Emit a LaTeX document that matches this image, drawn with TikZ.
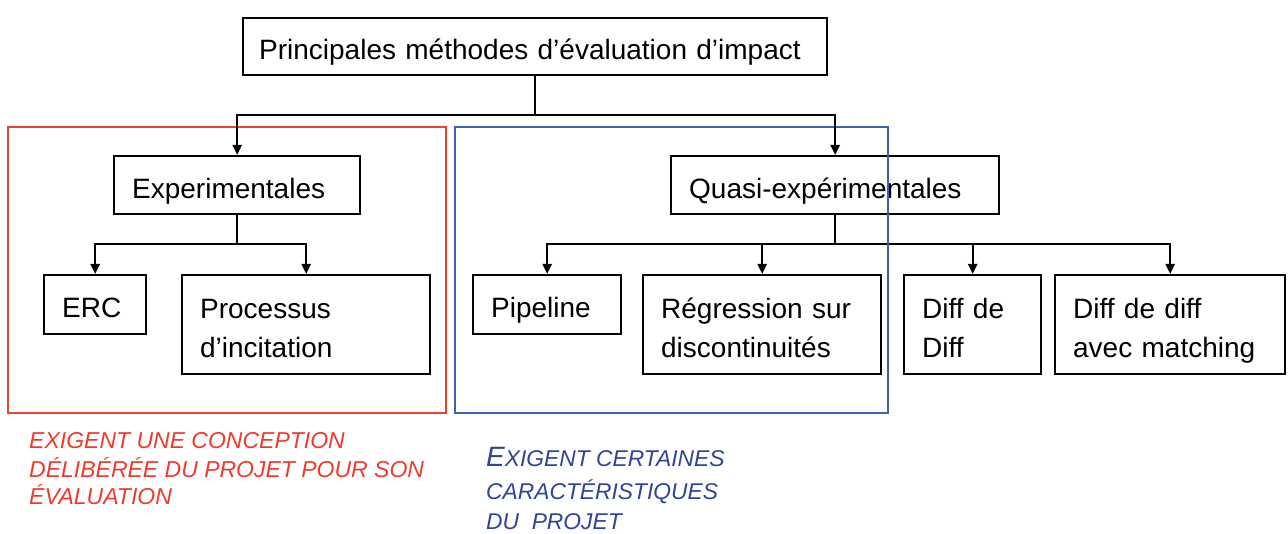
\documentclass[tikz,border=0pt]{standalone}
\usepackage{fontspec}
\setmainfont{Liberation Sans}
\usetikzlibrary{arrows.meta}
\definecolor{frred}{HTML}{EE4130}
\definecolor{frblue}{HTML}{3A62B0}
\definecolor{txred}{HTML}{F03A2C}
\definecolor{txblue}{HTML}{2E4499}
\tikzset{
  box/.style={draw=black, line width=2.3pt, anchor=north west, inner ysep=0pt,
    inner xsep=18pt, align=left, text height=27pt, text depth=1pt,
    font=\fontsize{28}{39}\selectfont},
  box2/.style={box, text depth=40pt},
  conn/.style={draw=black, line width=2.3pt},
  arr/.style={conn, -{Triangle[length=10pt,width=9pt]}},
  frame/.style={line width=2.3pt},
  rednote/.style={anchor=base west, inner sep=0pt, text=txred,
    font=\fontsize{23}{27}\selectfont\itshape},
  bluenote/.style={anchor=base west, inner sep=0pt, text=txblue,
    font=\fontsize{22.8}{33}\selectfont\itshape},
}
\begin{document}
\begin{tikzpicture}[x=1pt, y=-1pt]
\useasboundingbox (0,0) rectangle (1288,534);
% group frames
\draw[frame, frred] (8,127) rectangle (446,413);
\draw[frame, frblue] (455,127) rectangle (888,413);
% boxes
\node[box, inner xsep=16pt, text width=552pt, minimum height=57pt] (top) at (242,17) {Principales méthodes d’évaluation d’impact};
\node[box, text width=210pt, minimum height=58pt] (exp) at (113,155) {Experimentales};
\node[box, text width=292pt, minimum height=58pt] (quasi) at (670,155) {Quasi-expérimentales};
\node[box, text width=66pt, minimum height=59pt] (erc) at (43,274) {ERC};
\node[box2, text width=212pt, minimum height=99pt] (proc) at (181,274) {Processus\\d’incitation};
\node[box, text width=112pt, minimum height=59pt] (pipe) at (472,274) {Pipeline};
\node[box2, text width=202pt, minimum height=99pt] (regr) at (642,274) {Régression sur\\discontinuités};
\node[box2, text width=101pt, minimum height=99pt] (dd) at (903,274) {Diff de\\Diff};
\node[box2, text width=194pt, minimum height=99pt] (ddm) at (1054,274) {Diff de diff\\avec matching};
% junctions
\coordinate (j1) at (top.south |- 0,115);
\coordinate (j2) at (exp.south |- 0,244);
\coordinate (j3) at (quasi.south |- 0,244);
% connectors
\draw[conn] (top.south) -- (j1);
\draw[arr] (j1) -| (exp.north);
\draw[arr] (j1) -| (quasi.north);
\draw[conn] (exp.south) -- (j2);
\draw[arr] (j2) -| (erc.north);
\draw[arr] (j2) -| (proc.north);
\draw[conn] (quasi.south) -- (j3);
\draw[arr] (j3) -| (pipe.north);
\draw[arr] (j3) -| (regr.north);
\draw[arr] (j3) -| (dd.north);
\draw[arr] (j3) -| (ddm.north);
% blue frame line over the boxes
\draw[frame, frblue] (888,127) -- (888,413);
% notes
\node[rednote] (r1) at (29,449) {EXIGENT UNE CONCEPTION};
\node[rednote] (r2) at (29,477) {DÉLIBÉRÉE DU PROJET POUR SON};
\node[rednote] (r3) at (29,504) {ÉVALUATION};
\node[bluenote] (b1) at (486,466) {{\fontsize{28}{28}\selectfont E}XIGENT CERTAINES};
\node[bluenote] (b2) at (486,499) {CARACTÉRISTIQUES};
\node[bluenote] (b3) at (486,529) {DU\ \ PROJET};
\end{tikzpicture}
\end{document}
